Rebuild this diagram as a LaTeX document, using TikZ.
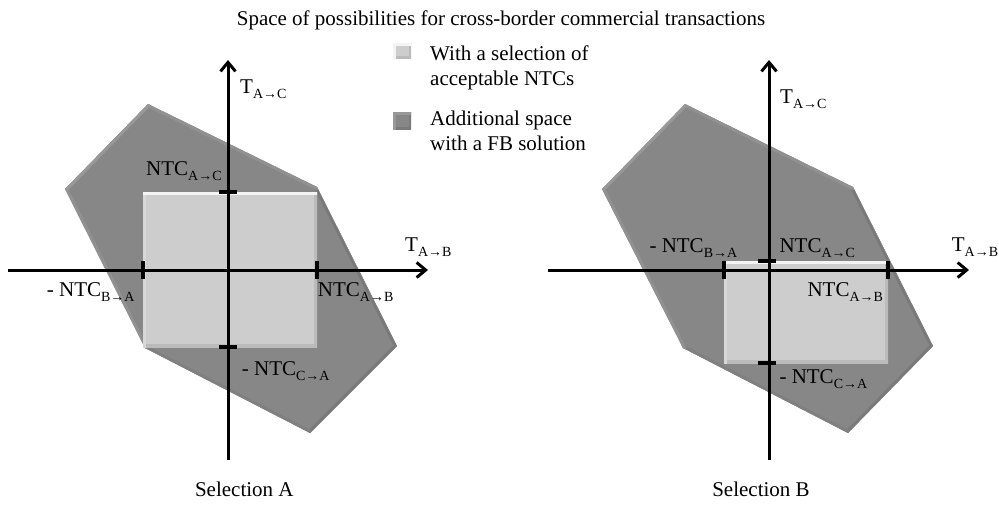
\documentclass[tikz,border=0pt]{standalone}
\usepackage{fontspec}
\setmainfont{Liberation Serif}
\usetikzlibrary{arrows.meta}
\newcommand{\sbs}[1]{\raisebox{-5pt}{\fontsize{14}{14}\selectfont #1}}
\definecolor{hexfill}{HTML}{878787}
\definecolor{hexlight}{HTML}{989898}
\definecolor{hexmid}{HTML}{919191}
\definecolor{hexdark}{HTML}{7A7A7A}
\definecolor{hexdarkb}{HTML}{808080}
\definecolor{rectfill}{HTML}{CDCDCD}
\definecolor{recttop}{HTML}{F4F4F4}
\definecolor{rectleft}{HTML}{D8D8D8}
\definecolor{rectdark}{HTML}{BBBBBB}
\begin{document}
\begin{tikzpicture}[x=1pt,y=-1pt,
  lbl/.style={font=\fontsize{21}{25}\selectfont, inner sep=0pt, anchor=base west},
  ctr/.style={font=\fontsize{21}{25}\selectfont, inner sep=0pt, anchor=base},
  axisline/.style={line width=3pt, -{Straight Barb[length=9pt,width=15pt]}},
  tickmark/.style={line width=3.5pt},
  bev/.style={line width=6pt, line cap=round, line join=round},
  bevs/.style={line width=5pt, line cap=round, line join=round},
]
\useasboundingbox (0,0) rectangle (999,504);
\fill[white] (0,0) rectangle (999,504);

% ---------- title ----------
\node[ctr] (title) at (501,25) {Space of possibilities for cross-border commercial transactions};

% ---------- legend ----------
\begin{scope}
\fill[rectfill] (393,43) rectangle (411,58);
\clip (393,43) rectangle (411,58);
\draw[bevs, rectdark] (393,58) -- (411,58) -- (411,43);
\draw[bevs, recttop] (393,58) -- (393,43) -- (411,43);
\end{scope}
\begin{scope}
\fill[hexfill] (393,112) rectangle (411,129);
\clip (393,112) rectangle (411,129);
\draw[bevs, hexdark] (393,129) -- (411,129) -- (411,112);
\draw[bevs, hexlight] (393,129) -- (393,112) -- (411,112);
\end{scope}
\node[lbl] (leg1a) at (430,60.7) {With a selection of};
\node[lbl] (leg1b) at (430,85.7) {acceptable NTCs};
\node[lbl] (leg2a) at (430,125.7) {Additional space};
\node[lbl] (leg2b) at (430,150.7) {with a FB solution};

% ================= Selection A =================
\coordinate (aTL) at (148,104);
\coordinate (aRT) at (317,187);
\coordinate (aR)  at (397,346);
\coordinate (aB)  at (310,433);
\coordinate (aBL) at (145,348);
\coordinate (aL)  at (65,189);
\fill[hexfill] (aTL) -- (aRT) -- (aR) -- (aB) -- (aBL) -- (aL) -- cycle;
\begin{scope}
\clip (aTL) -- (aRT) -- (aR) -- (aB) -- (aBL) -- (aL) -- cycle;
\draw[bev, hexdark] (aRT) -- (aR) -- (aB);
\draw[bev, hexdarkb] (aB) -- (aBL);
\draw[bev, hexmid] (aBL) -- (aL);
\draw[bev, hexmid] (aTL) -- (aRT);
\draw[bev, hexlight] (aL) -- (aTL);
\end{scope}
% light rectangle
\fill[rectfill] (143,192) rectangle (317,347);
\begin{scope}
\clip (143,192) rectangle (317,347);
\draw[bev, rectdark] (143,347) -- (317,347) -- (317,192);
\draw[bev, rectleft] (143,347) -- (143,192);
\draw[bev, recttop] (143,192) -- (317,192);
\end{scope}
% axes
\coordinate (aXs) at (8,270);
\coordinate (aXe) at (428,270);
\coordinate (aYs) at (228,460);
\coordinate (aYe) at (228,60);
\draw[axisline] (aXs) -- (aXe);
\draw[axisline] (aYs) -- (aYe);
% ticks
\draw[tickmark] (143,261) -- (143,279);
\draw[tickmark] (317,261) -- (317,279);
\draw[tickmark] (219,192) -- (237,192);
\draw[tickmark] (219,347) -- (237,347);
% labels
\node[lbl] (aTac) at (240,93.5) {T\sbs{A→C}};
\node[lbl] (aTab) at (405,251.7) {T\sbs{A→B}};
\node[lbl] (aNac) at (146,175) {NTC\sbs{A→C}};
\node[lbl] (aNba) at (46.7,296.7) {- NTC\sbs{B→A}};
\node[lbl] (aNab) at (317.7,296.7) {NTC\sbs{A→B}};
\node[lbl] (aNca) at (241.7,375) {- NTC\sbs{C→A}};
\node[ctr] (selA) at (244.3,496.6) {Selection A};

% ================= Selection B =================
\coordinate (bTL) at (685,104);
\coordinate (bRT) at (853,187);
\coordinate (bR)  at (933,346);
\coordinate (bB)  at (848,433);
\coordinate (bBL) at (683,348);
\coordinate (bL)  at (602,189);
\fill[hexfill] (bTL) -- (bRT) -- (bR) -- (bB) -- (bBL) -- (bL) -- cycle;
\begin{scope}
\clip (bTL) -- (bRT) -- (bR) -- (bB) -- (bBL) -- (bL) -- cycle;
\draw[bev, hexdark] (bRT) -- (bR) -- (bB);
\draw[bev, hexdarkb] (bB) -- (bBL);
\draw[bev, hexmid] (bBL) -- (bL);
\draw[bev, hexmid] (bTL) -- (bRT);
\draw[bev, hexlight] (bL) -- (bTL);
\end{scope}
\fill[rectfill] (724,261) rectangle (888,363);
\begin{scope}
\clip (724,261) rectangle (888,363);
\draw[bev, rectdark] (724,363) -- (888,363) -- (888,261);
\draw[bev, rectleft] (724,363) -- (724,261);
\draw[bev, recttop] (724,261) -- (888,261);
\end{scope}
\coordinate (bXs) at (548,270);
\coordinate (bXe) at (969,270);
\coordinate (bYs) at (769,460);
\coordinate (bYe) at (769,60);
\draw[axisline] (bXs) -- (bXe);
\draw[axisline] (bYs) -- (bYe);
\draw[tickmark] (724,261) -- (724,279);
\draw[tickmark] (888,261) -- (888,279);
\draw[tickmark] (758,261) -- (776,261);
\draw[tickmark] (758,363) -- (776,363);
\node[lbl] (bTac) at (780,103) {T\sbs{A→C}};
\node[lbl] (bTab) at (951.7,251.7) {T\sbs{A→B}};
\node[lbl] (bNba) at (649.3,252.7) {- NTC\sbs{B→A}};
\node[lbl] (bNac) at (779.3,252.7) {NTC\sbs{A→C}};
\node[lbl] (bNab) at (807.3,296) {NTC\sbs{A→B}};
\node[lbl] (bNca) at (779.3,383.3) {- NTC\sbs{C→A}};
\node[ctr] (selB) at (761,496.6) {Selection B};
\end{tikzpicture}
\end{document}
